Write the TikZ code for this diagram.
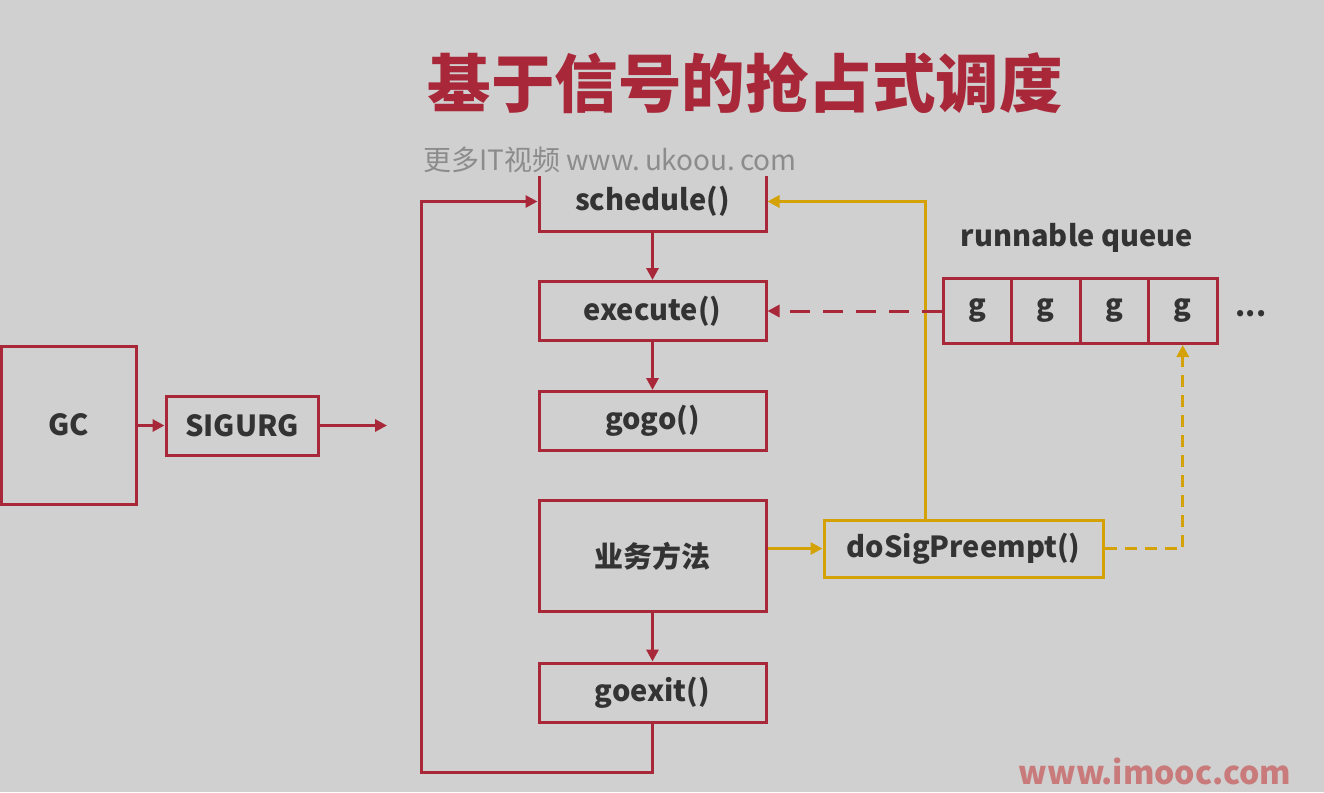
\documentclass[tikz,border=0pt]{standalone}
\usepackage{fontspec}
\setmainfont{Noto Sans CJK SC}
\usetikzlibrary{arrows.meta}
\definecolor{bg}{HTML}{D0D0D0}
\definecolor{myred}{HTML}{A82839}
\definecolor{myyel}{HTML}{D4A106}
\definecolor{txt}{HTML}{333333}
\definecolor{wm}{HTML}{8C8C8C}
\definecolor{wmred}{HTML}{C97A7A}
\begin{document}
\begin{tikzpicture}[x=1pt,y=-1pt,
  lbl/.style={text=txt,font=\bfseries\fontsize{29}{33}\selectfont},
  box/.style={lbl,draw=myred,line width=3pt,minimum width=227pt,minimum height=59pt,inner sep=0pt},
  cell/.style={lbl,draw=myred,line width=3pt,minimum width=68.5pt,minimum height=65pt,inner sep=0pt},
  ybox/.style={lbl,draw=myyel,line width=3pt,minimum width=279pt,minimum height=57pt,inner sep=0pt},
  rarr/.style={draw=myred,line width=3pt,-{Triangle[length=12pt,width=12pt]}},
  yarr/.style={draw=myyel,line width=3pt,-{Triangle[length=12pt,width=12pt]}},
  rdash/.style={rarr,dash pattern=on 20pt off 13pt},
  ydash/.style={yarr,dash pattern=on 12pt off 8pt}]
\fill[bg] (0,0) rectangle (1324,792);
\useasboundingbox (0,0) rectangle (1324,792);

% title
\node[text=myred,font=\bfseries\fontsize{63.5}{70}\selectfont] (title) at (745,83) {基于信号的抢占式调度};

% main column
\node[box] (sched) at (652.5,201.5) {schedule()};
\node[box] (exec) at (652.5,311) {execute()};
\node[box] (gogo) at (652.5,421) {gogo()};
\node[box,minimum height=111pt] (biz) at (652.5,556) {业务方法};
\node[box] (goexit) at (652.5,692.5) {goexit()};

% watermark band covering top of schedule box
\fill[bg] (405,138) rectangle (815,176);
\node[text=wm,font=\fontsize{28}{32}\selectfont] (wmk) at (610,160) {更多IT视频 www.\,ukoou.\,com};

\draw[rarr] (sched.south) -- (exec.north);
\draw[rarr] (exec.south) -- (gogo.north);
\draw[rarr] (biz.south) -- (goexit.north);

\coordinate (loopbl) at (421,772);
\draw[rarr] (goexit.south) |- (loopbl) |- (sched.west);

% left side
\node[box,minimum width=135pt,minimum height=158pt] (gc) at (68.5,425) {GC};
\node[box,minimum width=152pt,minimum height=59pt] (sig) at (242,425.5) {SIGURG};
\coordinate (sigend) at (387,425.5);
\draw[rarr] (gc.east |- sig.west) -- (sig.west);
\draw[rarr] (sig.east) -- (sigend);

% preempt
\node[ybox] (dsp) at (963.5,548.5) {doSigPreempt()};
\draw[yarr] (biz.east |- dsp.west) -- (dsp.west);
\coordinate (yup) at (925,201.5);
\draw[yarr] (dsp.north -| yup) -- (yup) -- (sched.east);

% queue
\node[lbl] (rq) at (1077,238) {runnable queue};
\node[cell] (q1) at (977.25,311) {g};
\node[cell] (q2) at (1045.75,311) {g};
\node[cell] (q3) at (1114.25,311) {g};
\node[cell] (q4) at (1182.75,311) {g};
\node[lbl] (dots) at (1251,314) {...};

\draw[rdash] (q1.west) -- (exec.east);
\coordinate (ydr) at (1182.75,548.5);
\draw[ydash] (dsp.east) -- (ydr) -- (q4.south);

\node[text=wmred,font=\bfseries\fontsize{32}{36}\selectfont] (imooc) at (1155,771) {www.imooc.com};
\end{tikzpicture}
\end{document}
